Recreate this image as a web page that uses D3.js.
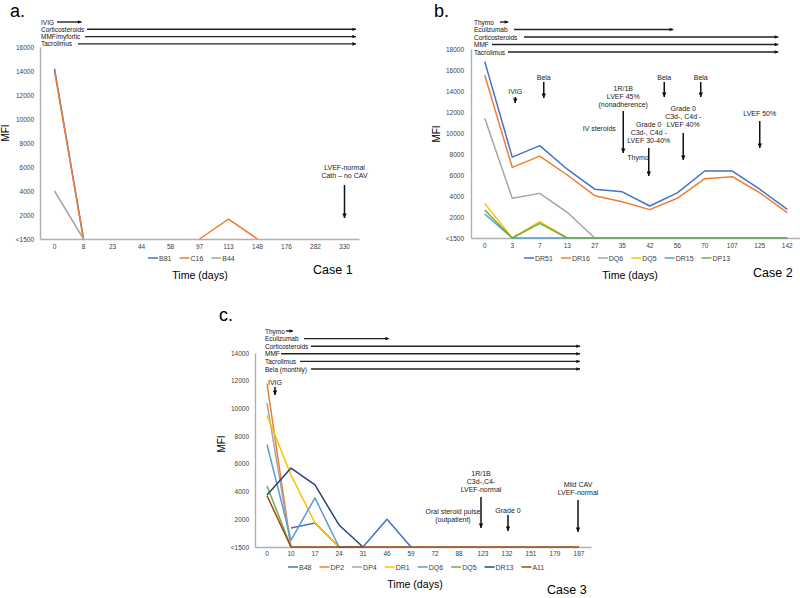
<!DOCTYPE html>
<html><head><meta charset="utf-8">
<script src="https://cdn.jsdelivr.net/npm/d3@7/dist/d3.min.js"></script>
<style>
body{margin:0;background:#fff}
svg{display:block}
text{font-family:"Liberation Sans",Arial,Helvetica,sans-serif}
</style>
</head><body>
<svg id="chart" width="800" height="598"></svg>
<script>
// ================= DATA =================
// ---- Case 1 (panel a) ----
const daysA = ["0","8","23","44","58","97","113","148","176","282","330"];
const namesA = ["B81","C16","B44"];
const b81A = [14200, 0, null, null, null, null, null, null, null, null, null];
const c16A = [14000, 0, null, null, null, 0, 1650, 0, null, null, null];
const b44A = [4000, 0, null, null, null, null, null, null, null, null, null];
const yTicksA = [0,2000,4000,6000,8000,10000,12000,14000,16000];
const yTickLabelsA = ["<1500","2000","4000","6000","8000","10000","12000","14000","16000"];
const treatmentsA = ["IVIG","Corticosteroids","MMF/myfortic","Tacrolimus"];
const treatUntilA = ["8","330","330","330"];
const eventsA = [{lines:["LVEF-normal","Cath \u2013 no CAV"], at:"330"}];

// ---- Case 2 (panel b) ----
const daysB = ["0","3","7","13","27","35","42","56","70","107","125","142"];
const namesB = ["DR51","DR16","DQ6","DQ5","DR15","DP13"];
const dr51B = [16800, 7700, 8800, 6550, 4650, 4400, 3050, 4300, 6380, 6380, 4650, 2720];
const dr16B = [15500, 6730, 7800, 6000, 4030, 3460, 2700, 3780, 5650, 5840, 4310, 2420];
const dq6B  = [11400, 3780, 4250, 2450, 0, null, null, null, null, null, null, null];
const dq5B  = [3300, 0, 1560, 0, null, null, null, null, null, null, null, null];
const dr15B = [2290, 0, 0, 0, 0, 0, 0, 0, 0, 0, 0, 0];
const dp13B = [2670, 0, 1400, 0, 0, 0, 0, 0, 0, 0, 0, 0];
const yTicksB = [0,2000,4000,6000,8000,10000,12000,14000,16000,18000];
const yTickLabelsB = ["<1500","2000","4000","6000","8000","10000","12000","14000","16000","18000"];
const treatmentsB = ["Thymo","Eculizumab","Corticosteroids","MMF","Tacrolimus"];
const treatUntilB = ["3","56","142","142","142"];
const eventsB = [
  {lines:["IVIG"], at:"3"},
  {lines:["Bela"], at:"7"},
  {lines:["1R/1B","LVEF 45%","(nonadherence)"], at:"35"},
  {lines:["IV steroids"], at:"35"},
  {lines:["Thymo"], at:"35"},
  {lines:["Grade 0","C3d-, C4d -","LVEF 30-40%"], at:"42"},
  {lines:["Bela"], at:"42"},
  {lines:["Bela"], at:"70"},
  {lines:["Grade 0","C3d-, C4d -","LVEF 40%"], at:"56"},
  {lines:["LVEF 50%"], at:"125"}
];

// ---- Case 3 (panel c) ----
const daysC = ["0","10","17","24","31","46","59","72","88","123","132","151","179","187"];
const namesC = ["B48","DP2","DP4","DR1","DQ6","DQ5","DR13","A11"];
const b48C  = [null, 1370, 1730, 0, 0, 2000, 0, null, null, null, null, null, null, null];
const dp2C  = [11800, 0, null, null, null, null, null, null, null, null, null, null, null, null];
const dp4C  = [10400, 0, null, null, null, null, null, null, null, null, null, null, null, null];
const dr1C  = [9500, 5200, 1730, 0, null, null, null, null, null, null, null, null, null, null];
const dq6C  = [7400, 500, 3540, 0, null, null, null, null, null, null, null, null, null, null];
const dq5C  = [4400, 0, null, null, null, null, null, null, null, null, null, null, null, null];
const dr13C = [3750, 5700, 4480, 1590, 0, null, null, null, null, null, null, null, null, null];
const a11C  = [3700, 0, 0, 0, 0, 0, 0, 0, 0, 0, 0, 0, 0, 0];
const yTicksC = [0,2000,4000,6000,8000,10000,12000,14000];
const yTickLabelsC = ["<1500","2000","4000","6000","8000","10000","12000","14000"];
const treatmentsC = ["Thymo","Eculizumab","Corticosteroids","MMF","Tacrolimus","Bela (monthly)"];
const treatUntilC = ["10","46","187","187","187","187"];
const eventsC = [
  {lines:["IVIG"], at:"0"},
  {lines:["1R/1B","C3d-,C4-","LVEF-normal"], at:"123"},
  {lines:["Oral steroid pulse","(outpatient)"], at:"123"},
  {lines:["Grade 0"], at:"132"},
  {lines:["Mild CAV","LVEF-normal"], at:"187"}
];

// ================= STYLE / LAYOUT =================
const palette = {
  blue:"#4472C4", orange:"#ED7D31", gray:"#A5A5A5", yellow:"#FFC000",
  lightblue:"#5B9BD5", green:"#70AD47", navy:"#264478", brown:"#9E480E"
};

const panels = [
  {
    letter:"a.", letterX:10, letterY:17,
    days:daysA, names:namesA, values:[b81A,c16A,b44A],
    colors:[palette.blue,palette.orange,palette.gray],
    yTicks:yTicksA, yLabels:yTickLabelsA, yMax:16000,
    left:40, right:359, top:47, base:239, xPad:5, yPad:6,
    mfi:[5,133],
    legendX:148, legendY:258,
    timeX:200, timeY:279, caseText:"Case 1", caseX:313, caseY:274,
    treat:{names:treatmentsA, until:treatUntilA, textX:41, y0:22, dy:7.3,
           starts:[57,87,85,78], endDx:[-2,11.5,11.5,11.5]},
    events:eventsA,
    evLayout:[{dx:0, y:167, arrow:[185,218]}]
  },
  {
    letter:"b.", letterX:434, letterY:17,
    days:daysB, names:namesB, values:[dr51B,dr16B,dq6B,dq5B,dr15B,dp13B],
    colors:[palette.blue,palette.orange,palette.gray,palette.yellow,palette.lightblue,palette.green],
    yTicks:yTicksB, yLabels:yTickLabelsB, yMax:18000,
    left:471, right:801, top:49, base:238, xPad:5, yPad:7,
    mfi:[436,134],
    legendX:524, legendY:258,
    timeX:630, timeY:279, caseText:"Case 2", caseX:753, caseY:277,
    treat:{names:treatmentsB, until:treatUntilB, textX:474, y0:22, dy:7.5,
           starts:[500,514,524,492,508], endDx:[-4,-4,-9,-9,-9]},
    events:eventsB,
    evLayout:[
      {dx:3, y:91, arrow:[97,103]},
      {dx:4, y:77, arrow:[82,98]},
      {dx:1, y:88, arrow:[111,153]},
      {dx:-23, y:128},
      {dx:5, y:157, anchor:"start"},
      {dx:-1, y:124, arrow:[148,176]},
      {dx:14.5, y:77, arrow:[82,97]},
      {dx:-4, y:77, arrow:[82,97]},
      {dx:6, y:108, arrow:[133,160]},
      {dx:0, y:113, arrow:[121,148]}
    ]
  },
  {
    letter:"c.", letterX:219, letterY:321,
    days:daysC, names:namesC, values:[b48C,dp2C,dp4C,dr1C,dq6C,dq5C,dr13C,a11C],
    colors:[palette.blue,palette.orange,palette.gray,palette.yellow,palette.lightblue,palette.green,palette.navy,palette.brown],
    yTicks:yTicksC, yLabels:yTickLabelsC, yMax:14000,
    left:255, right:591, top:353, base:547, xPad:4, yPad:6,
    mfi:[221,444],
    legendX:288, legendY:567,
    timeX:415, timeY:588, caseText:"Case 3", caseX:547, caseY:594,
    treat:{names:treatmentsC, until:treatUntilC, textX:265, y0:331, dy:7.6,
           starts:[286,304,311,281,300,311], endDx:[2,2,1,1,1,1]},
    events:eventsC,
    evLayout:[
      {dx:8, y:382, arrow:[387,395]},
      {dx:-2, y:473, arrow:[497,528]},
      {dx:-30, y:511},
      {dx:1, y:510, arrow:[515,531]},
      {dx:-1, y:484, arrow:[500,532]}
    ]
  }
];

// ================= DRAW =================
const svg = d3.select("#chart");
svg.append("rect").attr("width",800).attr("height",598).attr("fill","#fff");

const defs = svg.append("defs");
defs.append("marker").attr("id","headT")
  .attr("viewBox","0 0 10 10").attr("refX",10).attr("refY",5)
  .attr("markerWidth",4.5).attr("markerHeight",3.6)
  .attr("markerUnits","userSpaceOnUse").attr("orient","auto")
  .append("path").attr("d","M0,0L10,5L0,10z").attr("fill","#111");
defs.append("marker").attr("id","headE")
  .attr("viewBox","0 0 10 10").attr("refX",10).attr("refY",5)
  .attr("markerWidth",5).attr("markerHeight",4.5)
  .attr("markerUnits","userSpaceOnUse").attr("orient","auto")
  .append("path").attr("d","M0,0L10,5L0,10z").attr("fill","#111");

panels.forEach(p => {
  const g = svg.append("g");
  const x = d3.scaleBand().domain(p.days).range([p.left, p.right]).padding(0);
  const cx = d => x(d) + x.bandwidth()/2;
  const y = d3.scaleLinear().domain([0, p.yMax]).range([p.base, p.top]);

  // panel letter
  g.append("text").attr("x",p.letterX).attr("y",p.letterY)
    .attr("font-size",18).attr("fill","#000").text(p.letter);

  // y axis
  const ya = g.append("g").attr("transform",`translate(${p.left},0)`)
    .call(d3.axisLeft(y).tickValues(p.yTicks)
      .tickFormat((d,i) => p.yLabels[i]).tickSize(0).tickSizeOuter(0).tickPadding(p.yPad));
  ya.select(".domain").attr("stroke","#b0b0b0").attr("stroke-width",1.4);
  ya.selectAll("text").attr("font-size",6.5).attr("fill","#404040")
    .attr("font-family","Liberation Sans, Arial, sans-serif");

  // x axis
  const xa = g.append("g").attr("transform",`translate(0,${p.base})`)
    .call(d3.axisBottom(x).tickSize(0).tickSizeOuter(0).tickPadding(p.xPad));
  xa.select(".domain").attr("stroke","#b0b0b0").attr("stroke-width",1.4);
  xa.selectAll("text").attr("font-size",6.5).attr("fill","#404040")
    .attr("font-family","Liberation Sans, Arial, sans-serif");

  // MFI label
  g.append("text").attr("transform",`translate(${p.mfi[0]},${p.mfi[1]}) rotate(-90)`)
    .attr("text-anchor","middle").attr("dominant-baseline","central")
    .attr("font-size",10).attr("fill","#000").text("MFI");

  // series lines
  const line = d3.line().defined(d => d.v != null)
    .x(d => cx(d.day)).y(d => y(d.v));
  p.values.forEach((vals, si) => {
    g.append("path")
      .datum(p.days.map((day,i) => ({day, v: vals[i]})))
      .attr("d", line).attr("fill","none")
      .attr("stroke", p.colors[si]).attr("stroke-width",1.5)
      .attr("stroke-linejoin","round");
  });

  // legend
  let lx = p.legendX;
  p.names.forEach((n, i) => {
    g.append("line").attr("x1",lx).attr("x2",lx+10)
      .attr("y1",p.legendY).attr("y2",p.legendY)
      .attr("stroke",p.colors[i]).attr("stroke-width",1.5);
    const t = g.append("text").attr("x",lx+11).attr("y",p.legendY)
      .attr("dominant-baseline","central").attr("font-size",7)
      .attr("fill","#404040").text(n);
    lx += 11 + t.node().getComputedTextLength() + 8;
  });

  // axis title and case label
  g.append("text").attr("x",p.timeX).attr("y",p.timeY).attr("text-anchor","middle")
    .attr("font-size",10.6).attr("fill","#000").text("Time (days)");
  g.append("text").attr("x",p.caseX).attr("y",p.caseY)
    .attr("font-size",12.5).attr("fill","#000").text(p.caseText);

  // treatment bars
  const T = p.treat;
  T.names.forEach((n, i) => {
    const ty = T.y0 + i*T.dy;
    g.append("text").attr("x",T.textX).attr("y",ty).attr("dominant-baseline","central")
      .attr("font-size",6.5).attr("fill","#111").text(n);
    g.append("line").attr("x1",T.starts[i]).attr("x2",cx(T.until[i]) + T.endDx[i])
      .attr("y1",ty).attr("y2",ty)
      .attr("stroke","#222").attr("stroke-width",1.4).attr("marker-end","url(#headT)");
  });

  // event annotations
  p.events.forEach((ev, i) => {
    const L = p.evLayout[i];
    const ex = cx(ev.at) + L.dx;
    const t = g.append("text").attr("text-anchor", L.anchor || "middle")
      .attr("font-size",7).attr("fill","#222");
    ev.lines.forEach((s, k) => {
      t.append("tspan").attr("x",ex).attr("y",L.y + k*8.2)
        .attr("dominant-baseline","central").text(s);
    });
    if (L.arrow) {
      g.append("line").attr("x1",ex).attr("x2",ex)
        .attr("y1",L.arrow[0]).attr("y2",L.arrow[1])
        .attr("stroke","#111").attr("stroke-width",1.5).attr("marker-end","url(#headE)");
    }
  });
});
</script>
</body></html>
